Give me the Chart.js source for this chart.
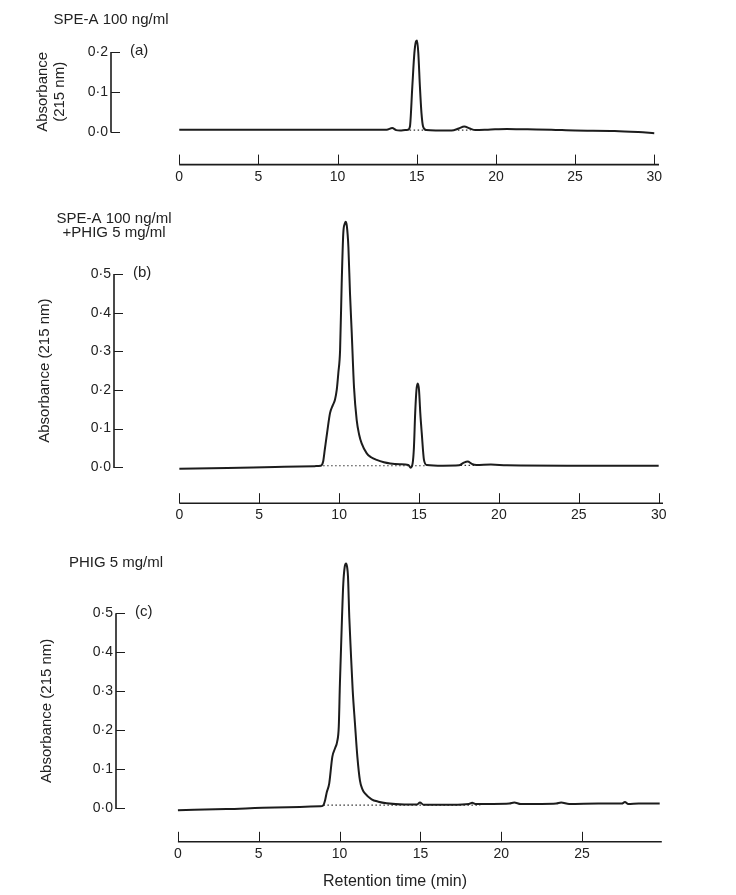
<!DOCTYPE html>
<html>
<head>
<meta charset="utf-8">
<script src="https://cdn.jsdelivr.net/npm/chart.js@4.4.1/dist/chart.umd.min.js"></script>
<style>
  body { margin: 0; background: #fff; }
  #wrap { position: relative; width: 736px; height: 895px; }
  canvas { position: absolute; left: 0; }
</style>
</head>
<body>
<div id="wrap">
  <canvas id="panelA" width="736" height="190" style="top:0px"></canvas>
  <canvas id="panelB" width="736" height="340" style="top:195px"></canvas>
  <canvas id="panelC" width="736" height="360" style="top:535px"></canvas>
</div>
<script>
// --- Panel (a): SPE-A 100 ng/ml ---
const timeA = [0, 3, 6, 9, 12, 13.1, 13.45, 13.7, 13.95, 14.27, 14.45, 14.57, 14.72, 14.85, 14.95, 15.02, 15.1, 15.2, 15.3, 15.4, 15.6, 16.2, 17.2, 17.65, 18.0, 18.35, 18.7, 19.5, 20.7, 22, 23.5, 25, 27.5, 29, 30];
const absA = [0.005, 0.005, 0.005, 0.005, 0.005, 0.005, 0.009, 0.004, 0.003, 0.004, 0.005, 0.013, 0.113, 0.197, 0.226, 0.229, 0.197, 0.113, 0.046, 0.013, 0.004, 0.003, 0.003, 0.008, 0.013, 0.008, 0.004, 0.005, 0.007, 0.006, 0.005, 0.003, 0.002, -0.001, -0.004];
const dotTimeA = [14.55, 15.6, 16.5, 17.6, 18.4];
const dotAbsA = [0.004, 0.004, null, 0.004, 0.004];

// --- Panel (b): SPE-A 100 ng/ml + PHIG 5 mg/ml ---
const timeB = [0, 3, 6, 8.5, 8.85, 9.0, 9.1, 9.25, 9.43, 9.6, 9.74, 9.85, 9.95, 10.06, 10.16, 10.26, 10.35, 10.41, 10.48, 10.58, 10.68, 10.79, 10.93, 11.1, 11.25, 11.41, 11.73, 12.0, 12.35, 12.8, 13.2, 13.8, 14.33, 14.48, 14.6, 14.68, 14.76, 14.84, 14.92, 15.0, 15.08, 15.17, 15.31, 15.48, 16.5, 17.5, 17.8, 18.05, 18.3, 18.6, 19.5, 20.5, 25, 30];
const absB = [-0.004, -0.002, 0.001, 0.003, 0.004, 0.015, 0.045, 0.09, 0.14, 0.16, 0.175, 0.2, 0.244, 0.303, 0.475, 0.605, 0.63, 0.635, 0.625, 0.57, 0.45, 0.347, 0.208, 0.122, 0.085, 0.062, 0.036, 0.026, 0.019, 0.013, 0.010, 0.008, 0.006, -0.001, 0.01, 0.05, 0.14, 0.2, 0.217, 0.2, 0.14, 0.089, 0.019, 0.006, 0.004, 0.005, 0.012, 0.015, 0.009, 0.006, 0.007, 0.005, 0.004, 0.004];
const dotTimeB = [9.0, 15.5, 16.5, 17.6, 18.5];
const dotAbsB = [0.004, 0.004, null, 0.005, 0.005];

// --- Panel (c): PHIG 5 mg/ml ---
const timeC = [0, 3, 6, 8.8, 8.98, 9.1, 9.2, 9.36, 9.55, 9.72, 9.85, 9.95, 10.02, 10.15, 10.23, 10.32, 10.4, 10.46, 10.52, 10.6, 10.69, 10.81, 10.95, 11.1, 11.26, 11.4, 11.57, 11.98, 12.4, 12.91, 14, 14.8, 14.97, 15.2, 16, 17, 18.0, 18.2, 18.4, 19.5, 20.5, 20.8, 21.2, 22.5, 23.4, 23.7, 24.2, 26, 27.45, 27.65, 27.85, 28.5, 29.8];
const absC = [-0.005, -0.002, 0.002, 0.005, 0.007, 0.02, 0.04, 0.064, 0.132, 0.154, 0.171, 0.21, 0.32, 0.49, 0.577, 0.62, 0.628, 0.62, 0.594, 0.49, 0.406, 0.303, 0.218, 0.132, 0.071, 0.05, 0.038, 0.023, 0.017, 0.013, 0.01, 0.01, 0.015, 0.009, 0.009, 0.009, 0.011, 0.014, 0.011, 0.011, 0.012, 0.015, 0.011, 0.011, 0.012, 0.015, 0.011, 0.012, 0.012, 0.016, 0.011, 0.012, 0.012];
const dotTimeC = [9.0, 18.7];
const dotAbsC = [0.008, 0.008];

// --- Tick values ---
const xTicksAB = [0, 5, 10, 15, 20, 25, 30];
const xTicksC = [0, 5, 10, 15, 20, 25];
const yTicksA = [0, 0.1, 0.2];
const yTicksBC = [0, 0.1, 0.2, 0.3, 0.4, 0.5];

const INK = '#1c1c1c';
const FONT = "'Liberation Sans', Arial, Helvetica, sans-serif";
Chart.defaults.font.family = FONT;
Chart.defaults.color = '#222';

function toPoints(xs, ys) {
    return xs.map((x, i) => ({ x: x, y: ys[i] }));
}

/**
 * Draws the detached axes, panel headings and rotated y titles
 */
const panelAxes = {
    id: 'panelAxes',
    afterDraw(chart, args, o) {
        const { ctx, chartArea: a, scales: { x, y } } = chart;
        const y0 = y.getPixelForValue(0);
        const yTop = y.getPixelForValue(o.yTicks[o.yTicks.length - 1]);
        ctx.save();
        ctx.strokeStyle = INK;

        // y axis: from 0 to top tick, ticks pointing right
        ctx.lineWidth = 1.6;
        ctx.beginPath();
        ctx.moveTo(a.left, y0 + 0.8);
        ctx.lineTo(a.left, yTop);
        ctx.stroke();
        ctx.lineWidth = 1;
        o.yTicks.forEach(v => {
            const py = Math.round(y.getPixelForValue(v)) + 0.5;
            ctx.beginPath();
            ctx.moveTo(a.left, py);
            ctx.lineTo(a.left + 9, py);
            ctx.stroke();
        });

        // x axis: from 0 to the right edge, ticks pointing up
        ctx.lineWidth = 1.6;
        ctx.beginPath();
        ctx.moveTo(x.getPixelForValue(0), a.bottom);
        ctx.lineTo(a.right, a.bottom);
        ctx.stroke();
        ctx.lineWidth = 1;
        o.xTicks.forEach(v => {
            const px = Math.round(x.getPixelForValue(v)) + 0.5;
            ctx.beginPath();
            ctx.moveTo(px, a.bottom);
            ctx.lineTo(px, a.bottom - 10);
            ctx.stroke();
        });

        ctx.fillStyle = '#222';
        ctx.textBaseline = 'middle';

        // heading above the panel
        ctx.font = '15px ' + FONT;
        ctx.textAlign = 'center';
        o.heading.forEach((line, i) => {
            ctx.fillText(line, a.left, a.top - o.headingOffset + i * 14);
        });

        // panel letter
        ctx.textAlign = 'left';
        ctx.fillText(o.letter, a.left + 19, yTop - 1);

        // rotated y title
        ctx.save();
        ctx.translate(0, (y0 + yTop) / 2);
        ctx.rotate(-Math.PI / 2);
        ctx.textAlign = 'center';
        o.yTitle.forEach((line, i) => {
            ctx.save();
            ctx.translate(0, a.left - o.yTitleOffset + i * 17);
            ctx.fillText(line, 0, 0);
            ctx.restore();
        });
        ctx.restore();

        // x title
        if (o.xTitle) {
            ctx.font = '16px ' + FONT;
            ctx.textAlign = 'center';
            ctx.fillText(o.xTitle, a.left + 279, a.bottom + 40);
        }
        ctx.restore();
    }
};

function makePanel(id, p) {
    const canvas = document.getElementById(id);
    return new Chart(canvas, {
        type: 'line',
        data: {
            datasets: [
                {
                    data: toPoints(p.time, p.abs),
                    borderColor: INK,
                    borderWidth: 2,
                    pointRadius: 0,
                    cubicInterpolationMode: 'monotone',
                    clip: false
                },
                {
                    data: toPoints(p.dotTime, p.dotAbs),
                    borderColor: '#333',
                    borderWidth: 1.2,
                    borderDash: [1.5, 2.5],
                    pointRadius: 0,
                    spanGaps: false,
                    clip: false
                }
            ]
        },
        options: {
            responsive: false,
            animation: false,
            layout: { padding: { top: p.padTop, right: p.padRight, left: 0, bottom: 0 } },
            plugins: {
                legend: { display: false },
                tooltip: { enabled: false },
                panelAxes: {
                    xTicks: p.xTicks,
                    yTicks: p.yTicks,
                    heading: p.heading,
                    headingOffset: p.headingOffset,
                    letter: p.letter,
                    yTitle: p.yTitle,
                    yTitleOffset: p.yTitleOffset,
                    xTitle: p.xTitle
                }
            },
            scales: {
                x: {
                    type: 'linear',
                    min: p.xMin,
                    max: p.xMax,
                    grid: { display: false, drawTicks: false },
                    border: { display: false },
                    afterBuildTicks: s => { s.ticks = p.xTicks.map(v => ({ value: v })); },
                    afterFit: s => { s.height = p.xAxisHeight; },
                    ticks: {
                        padding: 4,
                        autoSkip: false,
                        maxRotation: 0,
                        font: { size: 14 },
                        callback: v => String(v)
                    }
                },
                y: {
                    min: p.yMin,
                    max: p.yTicks[p.yTicks.length - 1],
                    grid: { display: false, drawTicks: false },
                    border: { display: false },
                    afterBuildTicks: s => { s.ticks = p.yTicks.map(v => ({ value: v })); },
                    afterFit: s => { s.width = p.axisLeft; },
                    ticks: {
                        padding: 3,
                        font: { size: 14 },
                        callback: v => v.toFixed(1).replace('.', '\u00B7')
                    }
                }
            }
        },
        plugins: [panelAxes]
    });
}

makePanel('panelA', {
    time: timeA, abs: absA, dotTime: dotTimeA, dotAbs: dotAbsA,
    xTicks: xTicksAB, yTicks: yTicksA,
    xMin: -4.31, xMax: 30.3, yMin: -0.0826,
    padTop: 52, padRight: 77, axisLeft: 111, xAxisHeight: 25.4,
    heading: ['SPE-A 100 ng/ml'], headingOffset: 32,
    letter: '(a)',
    yTitle: ['Absorbance', '(215 nm)'], yTitleOffset: 68
});

makePanel('panelB', {
    time: timeB, abs: absB, dotTime: dotTimeB, dotAbs: dotAbsB,
    xTicks: xTicksAB, yTicks: yTicksBC,
    xMin: -4.09, xMax: 30.27, yMin: -0.0929,
    padTop: 79, padRight: 73, axisLeft: 114, xAxisHeight: 31.8,
    heading: ['SPE-A 100 ng/ml', '+PHIG 5 mg/ml'], headingOffset: 55,
    letter: '(b)',
    yTitle: ['Absorbance (215 nm)'], yTitleOffset: 69
});

makePanel('panelC', {
    time: timeC, abs: absC, dotTime: dotTimeC, dotAbs: dotAbsC,
    xTicks: xTicksC, yTicks: yTicksBC,
    xMin: -3.83, xMax: 29.93, yMin: -0.0859,
    padTop: 78.3, padRight: 74.2, axisLeft: 116, xAxisHeight: 53.2,
    heading: ['PHIG 5 mg/ml'], headingOffset: 50,
    letter: '(c)',
    yTitle: ['Absorbance (215 nm)'], yTitleOffset: 69,
    xTitle: 'Retention time (min)'
});
</script>
</body>
</html>
